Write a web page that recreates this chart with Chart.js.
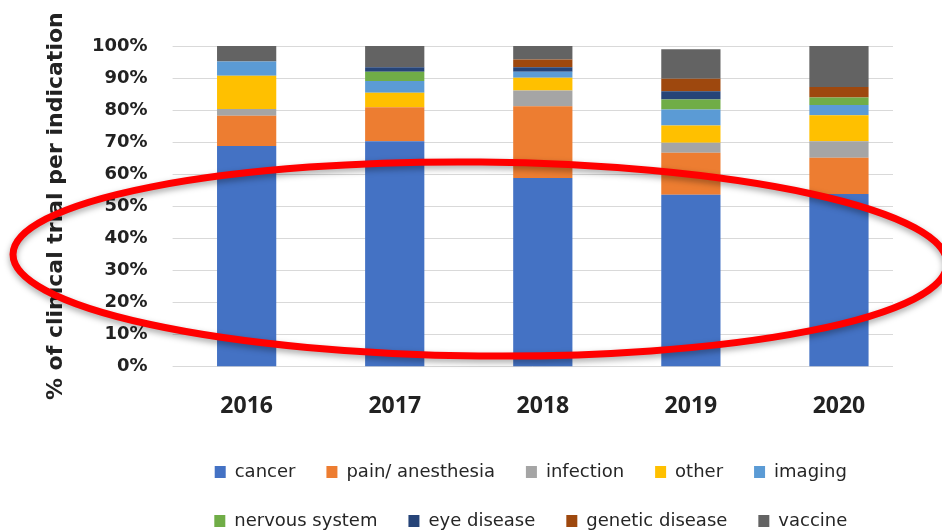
<!DOCTYPE html>
<html>
<head>
<meta charset="utf-8">
<script src="https://cdn.jsdelivr.net/npm/chart.js@4.4.1/dist/chart.umd.min.js"></script>
<style>
  html, body { margin: 0; padding: 0; background: #ffffff; }
  #wrap { width: 942px; height: 532px; }
</style>
</head>
<body>
<div id="wrap"><canvas id="c" width="942" height="532"></canvas></div>
<script>
// Share of clinical trials per indication, by year (%)
const years = ['2016', '2017', '2018', '2019', '2020'];
const cancer         = [68.8, 70.3, 58.8, 53.6, 53.8];
const painAnesthesia = [9.4, 10.6, 22.4, 13.1, 11.3];
const infection      = [2.1, 0, 4.9, 3.1, 5.2];
const other          = [10.4, 4.5, 4.0, 5.4, 8.1];
const imaging        = [4.5, 3.7, 1.9, 5.0, 3.2];
const nervousSystem  = [0, 2.9, 0, 3.1, 2.3];
const eyeDisease     = [0, 1.4, 1.4, 2.6, 0];
const geneticDisease = [0, 0, 2.4, 3.9, 3.3];
const vaccine        = [4.8, 6.6, 4.2, 9.2, 12.8];
const yTickValues    = [0, 10, 20, 30, 40, 50, 60, 70, 80, 90, 100];

const series = [
  { label: 'cancer',           data: cancer,         color: '#4472C4' },
  { label: 'pain/ anesthesia', data: painAnesthesia, color: '#ED7D31' },
  { label: 'infection',        data: infection,      color: '#A5A5A5' },
  { label: 'other',            data: other,          color: '#FFC000' },
  { label: 'imaging',          data: imaging,        color: '#5B9BD5' },
  { label: 'nervous system',   data: nervousSystem,  color: '#70AD47' },
  { label: 'eye disease',      data: eyeDisease,     color: '#264478' },
  { label: 'genetic disease',  data: geneticDisease, color: '#9E480E' },
  { label: 'vaccine',          data: vaccine,        color: '#636363' }
];

const textColor = '#222222';

// Horizontal gridlines, stopping a little short of the right edge of the plot
const shortGrid = {
  id: 'shortGrid',
  beforeDatasetsDraw(chart) {
    const { ctx, chartArea, scales } = chart;
    ctx.save();
    ctx.strokeStyle = '#d9d9d9';
    ctx.lineWidth = 1;
    yTickValues.forEach(v => {
      const y = Math.round(scales.y.getPixelForValue(v)) + 0.5;
      ctx.beginPath();
      ctx.moveTo(chartArea.left, y);
      ctx.lineTo(chartArea.right - 20, y);
      ctx.stroke();
    });
    ctx.restore();
  }
};

// Nudge the legend block so both rows sit under the bars' centre line
const legendShift = {
  id: 'legendShift',
  afterLayout(chart) {
    const lg = chart.legend;
    if (lg) { lg.left -= 12; lg.right -= 12; }
  }
};

// Hand-drawn style red ellipse highlighting the cancer share
const highlightEllipse = {
  id: 'highlightEllipse',
  afterDraw(chart) {
    const ctx = chart.ctx;
    ctx.save();
    ctx.strokeStyle = '#ff0000';
    ctx.lineWidth = 7;
    ctx.shadowColor = 'rgba(0,0,0,0.35)';
    ctx.shadowBlur = 6;
    ctx.shadowOffsetY = 3;
    ctx.beginPath();
    ctx.ellipse(480, 259, 467, 97, 0.01, 0, Math.PI * 2);
    ctx.stroke();
    ctx.restore();
  }
};

new Chart(document.getElementById('c'), {
  type: 'bar',
  data: {
    labels: years,
    datasets: series.map(s => ({
      label: s.label,
      data: s.data,
      backgroundColor: s.color,
      borderWidth: 0,
      categoryPercentage: 0.4,
      barPercentage: 1
    }))
  },
  options: {
    responsive: false,
    animation: false,
    devicePixelRatio: 1,
    layout: { padding: { left: 45, right: 29, top: 46, bottom: -8 } },
    plugins: {
      tooltip: { enabled: false },
      legend: {
        position: 'bottom',
        fullSize: false,
        labels: {
          color: '#262626',
          font: { family: 'DejaVu Sans', size: 18 },
          boxWidth: 11,
          boxHeight: 12,
          padding: 31
        }
      }
    },
    scales: {
      x: {
        stacked: true,
        grid: { display: false, drawTicks: true, tickLength: 14 },
        border: { display: false },
        ticks: {
          color: textColor,
          font: { family: 'Open Sans', size: 23, weight: 'bold' },
          padding: 12
        }
      },
      y: {
        stacked: true,
        min: 0,
        max: 100,
        afterBuildTicks(scale) {
          scale.ticks = yTickValues.map(v => ({ value: v }));
        },
        grid: { display: false, drawTicks: false },
        border: { display: false },
        ticks: {
          color: textColor,
          font: { family: 'DejaVu Sans', size: 18, weight: 'bold' },
          padding: 25,
          callback: v => v + '%'
        },
        title: {
          display: true,
          text: '% of clinical trial per indication',
          color: textColor,
          font: { family: 'DejaVu Sans', size: 22, weight: 'bold', lineHeight: 1 },
          padding: { top: 0, bottom: 0 }
        }
      }
    }
  },
  plugins: [shortGrid, legendShift, highlightEllipse]
});
</script>
</body>
</html>
